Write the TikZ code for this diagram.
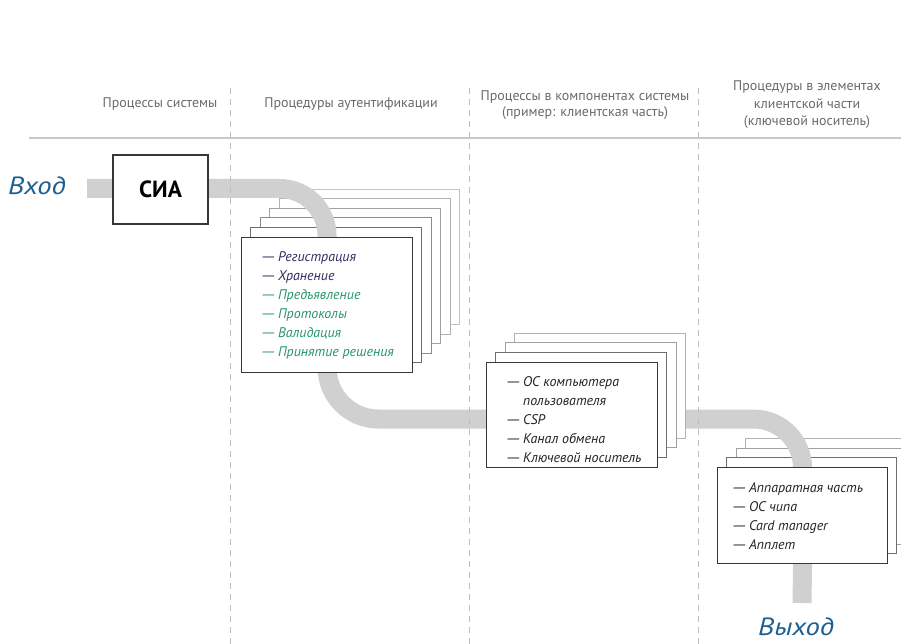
\documentclass[tikz,border=0pt]{standalone}
\usepackage{fontspec}
\setmainfont{PT Sans}
\definecolor{hdrgray}{RGB}{105,105,105}
\definecolor{bandgray}{RGB}{208,208,208}
\definecolor{linegray}{RGB}{200,200,200}
\definecolor{dashgray}{RGB}{190,190,190}
\definecolor{ioblue}{RGB}{30,95,145}
\definecolor{navy}{RGB}{45,45,95}
\definecolor{lgreen}{RGB}{40,150,105}
\definecolor{frontgray}{RGB}{55,55,55}
\definecolor{textdark}{RGB}{35,35,35}
\definecolor{ga}{RGB}{110,110,110}
\definecolor{gb}{RGB}{140,140,140}
\definecolor{gc}{RGB}{160,160,160}
\definecolor{gd}{RGB}{178,178,178}
\definecolor{ge}{RGB}{195,195,195}
\newcommand\ld{\scalebox{1.5}[1]{—}\kern1.5bp}
\pgfdeclarelayer{back}
\pgfdeclarelayer{bandl}
\pgfsetlayers{back,bandl,main}
\begin{document}
\begin{tikzpicture}[x=1bp,y=-1bp,
  hdr/.style={text=hdrgray, font=\fontsize{14}{16}\selectfont, align=center, inner sep=0},
  band/.style={line width=19bp, draw=bandgray},
  frontbox/.style={draw=frontgray, fill=white, line width=1.1bp, anchor=north west, inner sep=0},
  backbox/.style={fill=white, line width=1bp},
  lst/.style={font=\itshape\fontsize{14}{19}\selectfont, text=textdark, align=left, anchor=north west, inner sep=0},
  io/.style={text=ioblue, font=\itshape\fontsize{25}{25}\selectfont, inner sep=0},
  vdash/.style={draw=dashgray, line width=0.8bp, dash pattern=on 6bp off 5bp},
  hline/.style={draw=linegray, line width=1.3bp},
]
\useasboundingbox (0,0) rectangle (901,644);
\clip (0,0) rectangle (901,644);

% headers
\node[hdr] (h1) at (160,104) {Процессы системы};
\node[hdr] (h2) at (351,104) {Процедуры аутентификации};
\node[hdr] (h3) at (585,105) {Процессы в компонентах системы\\(пример: клиентская часть)};
\node[hdr, font=\fontsize{14}{17.5}\selectfont] (h4) at (807,105) {Процедуры в элементах\\клиентской части\\(ключевой носитель)};
\draw[hline] (29,138) -- (901,138);

% dashed separators
\draw[vdash] (230,88) -- (230,644);
\draw[vdash] (469,88) -- (469,644);
\draw[vdash] (698,88) -- (698,644);

% input / output
\node[io] (in) at (37,186) {\scalebox{1.15}[1]{Вход}};
\node[io] (out) at (796,627) {\scalebox{1.15}[1]{Выход}};
\coordinate (bandstart) at (87,188.5);
\coordinate (bandend) at (802,603);

% SIA
\node[draw=frontgray, fill=white, line width=1.1bp, minimum width=95bp, minimum height=69bp, inner sep=0,
      font=\bfseries\fontsize{23.5}{23.5}\selectfont] (sia) at (160.5,189.5) {СИА};

% back boxes of stacks 1 and 3
\begin{pgfonlayer}{back}
\foreach \k/\c in {5/ge,4/gd,3/gc,2/gb,1/ga}
  \draw[backbox, draw=\c] (241+9.5*\k,237-9.5*\k) rectangle ++(171,135);
\foreach \k/\c in {3/gd,2/gc,1/ga}
  \draw[backbox, draw=\c] (717+9.5*\k,467-9.5*\k) rectangle ++(170,96);
\end{pgfonlayer}

% stack 1
\node[frontbox, minimum width=171bp, minimum height=135bp] (s1) at (241,237) {};
\node[lst] (l1) at (260,251.5) {{\color{navy}\ld Регистрация}\\{\color{navy}\ld Хранение}\\{\color{lgreen}\ld Предъявление}\\{\color{lgreen}\ld Протоколы}\\{\color{lgreen}\ld Валидация}\\{\color{lgreen}\ld Принятие решения}};

% stack 2
\foreach \k/\c in {3/gd,2/gc,1/ga}
  \draw[backbox, draw=\c] (486+9.6*\k,362-9.6*\k) rectangle ++(171,105);
\node[frontbox, minimum width=171bp, minimum height=105bp] (s2) at (486,362) {};
\node[lst] (l2) at (505,376.5) {\ld ОС компьютера\\\phantom{\ld}пользователя\\\ld CSP\\\ld Канал обмена\\\ld Ключевой носитель};

% stack 3
\node[frontbox, minimum width=170bp, minimum height=96bp] (s3) at (717,467) {};
\node[lst] (l3) at (731,482.5) {\ld Аппаратная часть\\\ld ОС чипа\\\ld Card manager\\\ld Апплет};

% band
\coordinate (s2in) at ([yshift=-4bp]s2.west);
\coordinate (s2out) at ([yshift=-4bp]s2.east);
\begin{pgfonlayer}{bandl}
\draw[band, rounded corners=47.5bp] (bandstart) -| (s1.north);
\draw[band, rounded corners=51.5bp] (s1.south) |- (s2in);
\draw[band, rounded corners=49bp] (s2out) -| (s3.north);
\draw[band] (s3.south) -- (bandend);
\end{pgfonlayer}
\end{tikzpicture}
\end{document}
